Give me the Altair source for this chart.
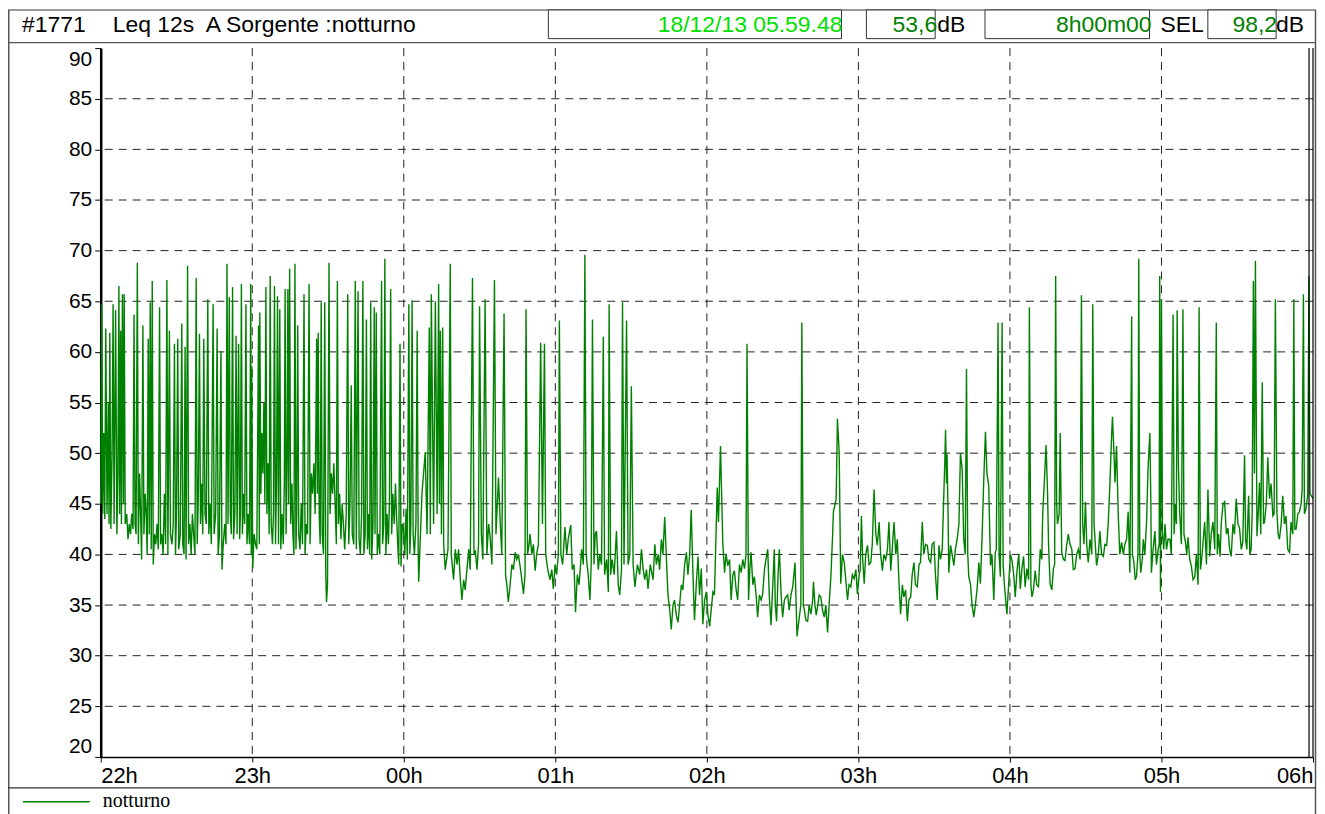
import altair as alt
import pandas as pd

# ---- data: (minutes after 22:00, Leq dB) ----
seg_22h_00h = [
    (0, 45), (0.4, 64.7), (0.8, 44), (1.2, 52), (1.6, 43.5), (2.0, 62.3), (2.5, 44), (3.0, 55), (3.3, 43),
    (3.6, 61.9), (4.0, 42.5), (4.5, 50), (4.9, 64.7), (5.3, 43), (5.9, 64.1), (6.4, 42), (6.8, 48), (7.2, 66.5),
    (7.5, 44), (7.9, 62.1), (8.2, 43), (8.6, 65.7), (9.0, 45), (9.3, 65.7), (9.7, 43), (10.3, 44), (10.8, 41.5),
    (11.3, 43), (11.8, 42), (12.3, 44), (12.8, 42.5), (13.2, 63.7), (13.6, 43), (14.0, 42), (14.5, 68.8), (14.9, 41),
    (15.4, 48), (15.8, 44), (16.2, 39.5), (16.7, 62.6), (17.1, 42), (17.6, 46), (18.0, 44), (18.4, 40), (18.8, 61.3),
    (19.2, 42), (19.6, 64.9), (20.0, 40.5), (20.4, 67.0), (20.8, 39), (21.3, 42), (21.8, 41), (22.3, 43), (22.8, 40.5),
    (23.3, 64.4), (23.7, 41), (24.2, 42), (24.7, 40), (25.2, 46), (25.7, 41), (26.2, 67.1), (26.6, 40), (27.2, 62.1),
    (27.6, 42), (28.2, 41), (28.7, 43), (29.2, 60.8), (29.6, 40), (30.0, 44), (30.5, 61.3), (30.9, 40.5), (31.5, 42),
    (32.1, 62.8), (32.5, 41), (33.0, 40), (33.4, 60.5), (33.8, 39.5), (34.4, 68.5), (34.8, 41), (35.3, 43), (35.8, 40),
    (36.3, 44), (36.8, 42), (37.3, 40), (37.8, 67.3), (38.2, 41), (38.6, 45), (39.1, 61.8), (39.5, 43), (40.0, 47),
    (40.4, 42), (40.8, 61.3), (41.3, 44), (41.8, 43), (42.4, 65.2), (42.8, 42), (43.3, 45), (43.8, 41), (44.5, 64.7),
    (44.9, 42), (45.5, 44), (46.1, 62.3), (46.5, 40), (47.0, 42), (47.6, 60.1), (48.0, 38.5), (48.5, 41), (49.1, 43),
    (49.6, 41), (50.0, 68.7), (50.4, 43), (50.9, 65.4), (51.3, 44), (51.7, 42), (52.2, 66.4), (52.6, 41.5), (53.1, 44),
    (53.6, 61.6), (54.0, 42), (54.6, 60.8), (55.0, 41.5), (55.3, 44), (55.7, 66.7), (56.1, 42), (56.6, 46), (57.0, 43),
    (57.5, 64.7), (57.9, 41), (58.4, 44), (58.9, 41), (59.4, 66.7), (59.6, 40), (59.8, 58.6), (60.2, 38.6), (60.7, 42),
    (61.3, 41), (61.8, 40.5), (62.5, 62.6), (62.8, 41), (63.0, 63.9), (63.4, 46), (63.8, 52), (64.2, 48), (64.6, 55),
    (65.0, 45), (65.4, 66.4), (65.8, 44), (66.3, 49), (66.7, 42), (67.1, 67.5), (67.5, 43), (68.0, 41), (68.4, 44),
    (68.8, 66.5), (69.2, 41), (69.6, 47), (70.0, 65.5), (70.4, 41), (70.9, 64.2), (71.3, 40.5), (71.8, 44), (72.3, 41),
    (72.7, 47), (73.0, 66.2), (73.4, 42), (73.8, 50), (74.1, 66.2), (74.4, 45), (74.8, 68.2), (75.2, 43), (75.7, 47),
    (76.1, 42), (76.5, 40), (76.9, 68.7), (77.3, 40.5), (77.6, 44), (78.0, 62.6), (78.4, 42), (78.9, 40.5), (79.4, 45),
    (79.9, 41), (80.5, 65.7), (80.9, 40), (81.4, 43), (81.9, 42), (82.5, 66.7), (82.9, 41), (83.4, 48), (83.9, 46),
    (84.4, 49), (84.9, 44), (85.5, 61.3), (85.8, 46), (86.1, 61.9), (86.5, 44), (86.9, 41), (87.3, 64.9), (87.7, 42),
    (88.2, 40), (88.7, 64.9), (89.1, 38), (89.4, 35.3), (89.8, 37), (90.4, 68.8), (90.8, 44), (91.3, 48), (91.8, 46),
    (92.3, 49), (92.8, 45), (93.3, 41), (93.7, 67.0), (94.1, 43), (94.6, 46), (95.1, 41.5), (95.6, 45), (96.1, 43),
    (96.6, 40.5), (97.2, 44), (97.8, 65.7), (98.2, 41), (98.7, 45), (99.2, 56.7), (99.6, 42), (100.2, 41), (100.8, 67.0),
    (101.2, 40.5), (101.9, 66.0), (102.3, 41.5), (102.8, 40), (103.3, 44), (103.8, 67.0), (104.2, 40), (104.7, 42),
    (105.2, 63.2), (105.6, 40.5), (106.1, 44), (106.5, 40), (106.9, 64.9), (107.3, 39.5), (107.8, 43), (108.3, 64.4),
    (108.6, 42), (109.1, 63.9), (109.5, 40), (110.0, 42), (110.5, 40), (111.2, 67.0), (111.6, 41), (112.1, 43),
    (112.5, 69.2), (112.9, 40), (113.4, 44), (113.9, 41), (114.3, 45), (114.8, 66.2), (115.2, 42), (115.7, 46),
    (116.2, 43), (116.7, 47), (117.1, 44), (117.6, 41), (118.0, 39), (118.5, 60.8), (118.9, 38.8), (119.4, 43),
    (119.9, 42.5), (120.4, 40), (120.9, 44.5), (121.4, 39.5), (122.0, 64.7), (122.4, 40), (122.8, 43), (123.3, 65.1),
    (123.7, 42), (124.2, 40), (124.8, 43), (125.3, 62.1), (125.7, 40.5),
]

seg_00h_02h = [
    (125.9, 37.3), (127.2, 46.0), (128.5, 50.1), (129.2, 42), (130.1, 62.4), (130.5, 42), (130.9, 65.7), (131.8, 43),
    (132.5, 65.0), (133.2, 44), (133.8, 66.7), (134.1, 45), (134.5, 62.1), (134.9, 42), (135.4, 62.4), (135.8, 41),
    (136.4, 38.5), (137.5, 40.5), (138.4, 68.7), (138.8, 40), (139.7, 37.5), (140.4, 40.5), (141.1, 39), (141.7, 40.5),
    (142.4, 37.5), (143.0, 35.5), (143.7, 37.5), (144.3, 36.5), (145.0, 38.5), (145.7, 40.5), (146.3, 38.5),
    (147.2, 67.3), (147.8, 40), (148.3, 40.4), (149.0, 38.5), (149.6, 41), (150.0, 64.5), (150.7, 42), (151.3, 39.5),
    (152.2, 65.2), (152.9, 40), (153.6, 43), (154.2, 41.7), (154.9, 39), (155.9, 67.1), (156.5, 42), (157.5, 47.6),
    (158.2, 43), (158.8, 40), (159.7, 63.8), (160.3, 38), (160.8, 37), (161.4, 35.3), (162.1, 37), (162.8, 39),
    (163.4, 38.5), (164.1, 40.2), (164.7, 39.5), (165.4, 40), (166.5, 38), (167.4, 36.1), (168.0, 38), (168.4, 64.2),
    (169.0, 40), (169.6, 41), (170.0, 42.0), (170.7, 40), (171.3, 41), (172.0, 38.4), (172.6, 40), (173.3, 41),
    (174.2, 60.9), (174.9, 43), (175.7, 60.8), (176.2, 40), (177.0, 38.5), (177.9, 37.5), (178.6, 38.5), (179.2, 36.6),
    (179.9, 39), (180.5, 38), (181.2, 40), (181.6, 63.1), (182.2, 40), (182.9, 39), (183.8, 42.7), (184.5, 40),
    (185.1, 41.5), (186.1, 42.9), (186.7, 38.5), (187.4, 39), (188.0, 34.3), (188.7, 38), (189.4, 37), (190.0, 39),
    (190.4, 40.5), (191.1, 39), (191.7, 69.6), (192.2, 40), (193.0, 38), (193.7, 35.5), (194.2, 39), (194.7, 63.2),
    (195.3, 39), (195.8, 42), (196.3, 42.3), (197.0, 38.5), (197.6, 40), (198.3, 39), (199.0, 61.5), (199.5, 38),
    (200.3, 39.5), (201.0, 36.3), (201.3, 64.7), (201.9, 38), (202.5, 39.5), (203.3, 38), (204.2, 42.3), (204.9, 37),
    (205.5, 36), (206.2, 38.5), (206.6, 64.9), (207.2, 39), (208.2, 63.1), (208.8, 39), (209.5, 40), (210.1, 56.6),
    (210.8, 39), (211.5, 36.8), (212.5, 39), (213.4, 38), (214.1, 40.5), (214.8, 38.5), (215.4, 37.5), (216.1, 38.5),
    (216.7, 36.6), (217.6, 39), (218.7, 37.5), (219.4, 41), (220.0, 39), (220.7, 40), (221.3, 38.5), (222.0, 41.5),
    (222.6, 40), (223.3, 43.7), (224.0, 39.5), (224.6, 36), (225.3, 34.5), (225.9, 32.6), (226.6, 35), (227.2, 35.5),
    (227.9, 34), (228.6, 33.3), (229.2, 35), (229.9, 37), (230.5, 36.5), (231.2, 39), (231.9, 40.2), (232.5, 38),
    (233.2, 40), (233.8, 44.4), (234.5, 38), (235.1, 33.5), (235.8, 37), (236.5, 39.8), (237.1, 36), (237.8, 38.6),
    (238.4, 33.1), (239.1, 35.5), (239.8, 36.3), (240.4, 34), (241.1, 32.9), (241.7, 34.5), (242.4, 36.3), (243.0, 36),
    (243.7, 42.7), (244.1, 46.6),
]

seg_02h_04h = [
    (244.6, 43.2), (245.4, 50.7), (246.3, 41.2), (247.0, 38.2), (247.6, 40), (248.3, 38.9), (249.0, 39.5),
    (249.6, 35.5), (250.3, 38), (250.9, 38.4), (251.6, 36.5), (252.2, 35.5), (252.9, 39), (253.6, 38.2), (254.2, 39.5),
    (254.9, 38.6), (255.5, 40), (255.9, 60.8), (256.5, 35.5), (257.0, 38.5), (257.5, 40.2), (258.2, 37), (258.8, 37.8),
    (259.5, 36), (260.1, 33.8), (260.8, 36), (261.5, 35.5), (262.1, 36.1), (262.8, 38.5), (263.4, 39.5), (264.1, 40.5),
    (264.7, 36), (265.4, 33.0), (266.1, 37), (266.7, 40.5), (267.1, 35), (267.6, 33.4), (268.2, 38), (268.7, 40.5),
    (269.4, 36), (270.0, 33.8), (270.7, 35.5), (271.3, 35.8), (272.0, 36), (272.6, 34.5), (273.3, 36), (274.0, 36.8),
    (274.9, 39.2), (275.7, 31.9), (276.2, 33), (276.6, 33.8), (277.2, 35), (277.6, 62.9), (278.2, 35), (278.6, 34.5),
    (279.2, 33.5), (279.9, 33.4), (280.5, 35), (281.2, 34.1), (281.9, 35.5), (282.2, 37.3), (282.8, 35), (283.3, 34),
    (283.8, 34.8), (284.5, 36), (285.1, 35.8), (285.8, 34.5), (286.5, 33.8), (287.1, 35), (287.8, 32.3), (288.4, 35),
    (289.1, 37.8), (289.8, 42), (290.1, 44.2), (290.8, 45), (291.2, 45.5), (291.7, 53.4), (292.4, 50.0), (293.0, 37.1),
    (293.7, 40), (294.4, 39.2), (295.0, 37.5), (295.7, 35.5), (296.3, 37), (297.0, 36.8), (297.6, 38), (298.3, 37.6),
    (299.0, 38.5), (299.6, 36.1), (300.3, 38), (300.7, 38.4), (301.2, 43.8), (301.7, 39.5), (302.3, 37.1), (302.9, 40),
    (303.6, 40.9), (304.2, 39), (304.9, 39.2), (305.5, 41), (306.2, 46.4), (306.9, 42), (307.5, 40.9), (308.2, 43.2),
    (308.8, 40), (309.5, 38.4), (310.1, 40), (310.8, 39.5), (311.5, 40.5), (312.1, 43.2), (312.8, 38.4), (313.4, 40.5),
    (314.1, 43.2), (314.8, 40), (315.4, 41.5), (316.1, 37), (316.7, 34.1), (317.4, 37), (318.0, 35.8), (318.7, 36.5),
    (319.4, 33.4), (320.0, 35.5), (320.7, 35.8), (321.3, 38), (322.0, 39.2), (322.6, 37), (323.3, 36.8), (324.0, 39),
    (324.6, 39.2), (325.3, 43.2), (325.9, 40), (326.6, 41), (327.3, 40.9), (327.9, 39.5), (328.6, 39.2), (329.2, 41),
    (329.9, 41.2), (330.5, 38), (331.2, 35.5), (331.9, 40.9), (332.5, 39.5), (333.2, 40.5), (333.8, 45.8), (334.2, 49),
    (334.5, 52.3), (334.9, 47), (335.1, 49.9), (335.5, 44), (335.8, 38.2), (336.5, 40.9), (337.1, 40), (337.8, 38.9),
    (338.4, 40.5), (339.1, 41.5), (339.8, 43), (340.4, 50.0), (341.1, 48.4), (341.7, 41.5), (342.3, 40), (342.8, 58.3),
    (343.3, 40), (343.7, 37.8), (344.4, 37), (345.0, 35), (345.7, 33.8), (346.3, 35), (347.0, 36.6), (347.7, 39.2),
    (348.3, 37.1), (349.0, 42), (349.6, 47.1), (350.3, 52.1), (350.9, 48), (351.6, 46.8), (352.3, 38.9), (352.9, 40),
    (353.6, 35.5), (354.2, 40.2), (354.6, 40.5), (355.3, 62.9), (355.7, 40), (356.2, 37.8), (356.9, 62.9), (357.3, 39),
    (357.8, 37), (358.8, 34.1), (359.5, 37.1), (360.2, 40), (360.8, 39.4), (361.5, 38), (362.1, 35.8), (362.8, 38.4),
]

seg_04h_06h = [
    (363.5, 40), (364.1, 36.6), (364.7, 38.5), (365.4, 39.8), (366.0, 36.8), (366.7, 38.6), (367.4, 37.5),
    (367.7, 64.4), (368.3, 37), (368.7, 35.8), (369.3, 36.5), (370.0, 38.4), (370.6, 37), (371.3, 36.8), (372.0, 40.5),
    (372.6, 39.5), (373.0, 44.2), (373.7, 47.6), (374.3, 50.8), (374.9, 46), (375.3, 40.9), (375.9, 37.1),
    (376.6, 36.5), (377.2, 38.6), (377.7, 39), (378.1, 67.5), (378.5, 45), (378.8, 43), (379.5, 44), (379.9, 52),
    (380.5, 40.2), (381.2, 39.5), (381.8, 39.4), (382.5, 41), (383.1, 42), (383.8, 41), (384.5, 40.5), (385.1, 38.5),
    (385.8, 38.6), (386.4, 40), (387.1, 40.5), (387.8, 39.5), (388.3, 65.6), (388.8, 43), (389.3, 41), (389.9, 45.2),
    (390.4, 41), (391.0, 39.2), (391.7, 41.5), (392.4, 40), (392.8, 64.7), (393.3, 43), (393.8, 41), (394.3, 38.9),
    (395.0, 40), (395.6, 42.3), (396.3, 40), (397.0, 39.8), (397.6, 41), (398.3, 40.9), (398.9, 43), (399.6, 47.1),
    (400.3, 52), (400.6, 53.6), (401.2, 50), (401.6, 47.1), (402.2, 50.7), (402.9, 43.8), (403.5, 40), (404.2, 41.2),
    (404.9, 40), (405.5, 41), (406.2, 41.5), (406.8, 44.2), (407.5, 38.2), (408.2, 63.5), (408.5, 40), (409.1, 39.2),
    (409.6, 37.5), (410.1, 37.8), (410.7, 40), (411.0, 69.2), (411.4, 40), (411.8, 38.2), (412.4, 39.5), (412.8, 41.5),
    (413.4, 40), (414.1, 43.2), (414.7, 48.6), (415.4, 52), (415.8, 45), (416.0, 38.2), (416.7, 40.5), (417.4, 42.3),
    (418.0, 39), (418.7, 40.5), (419.1, 41), (419.3, 67.5), (419.6, 36.3), (420.0, 65.2), (420.4, 42), (420.9, 40.5),
    (421.4, 43), (422.0, 40.5), (422.6, 41.5), (423.3, 41.5), (423.9, 40), (424.6, 63.7), (425.0, 42), (425.5, 45),
    (425.9, 43), (426.2, 64.1), (426.7, 48.9), (427.2, 44.2), (427.9, 41), (428.5, 64.2), (428.9, 42), (429.5, 41.2),
    (430.0, 40), (430.5, 41.7), (431.2, 39.5), (431.8, 38.9), (432.5, 37.5), (433.2, 37.8), (433.8, 40), (434.5, 37),
    (434.9, 64.4), (435.4, 38.5), (435.8, 39.2), (436.4, 41), (437.1, 43.2), (437.8, 39), (438.4, 46.4), (439.1, 39.8),
    (439.7, 42), (440.4, 43.2), (441.1, 40.5), (441.7, 62.9), (442.1, 40), (442.6, 42), (443.2, 39.8), (443.7, 43.2),
    (444.4, 45), (445.0, 45.2), (445.7, 42), (446.3, 42.6), (447.0, 40.5), (447.6, 39.8), (448.3, 43), (448.9, 42),
    (449.6, 45.5), (450.3, 43), (450.9, 42.6), (451.6, 40.5), (452.2, 41.2), (452.9, 49.8), (453.3, 41.5),
    (453.8, 40.5), (454.5, 45.8), (455.0, 40), (455.5, 40.5), (455.9, 44), (456.4, 67.0), (456.8, 48), (457.2, 69.0),
    (457.8, 41.8), (458.3, 44), (458.8, 47.1), (459.3, 42), (459.9, 57), (460.4, 43), (460.8, 43.2), (461.5, 45),
    (462.1, 49.6), (462.8, 45.5), (463.4, 47), (464.1, 43.8), (464.6, 44), (465.1, 65.2), (465.7, 44.2), (466.2, 42),
    (466.7, 41.5), (467.4, 43), (468.0, 45.8), (468.7, 43), (469.3, 43.8), (470.0, 40.5), (470.7, 40.2), (471.3, 43.2),
    (472.0, 42), (472.4, 65.2), (472.8, 42.5), (473.3, 42.5), (474.0, 44), (474.6, 44.2), (475.3, 45), (475.7, 46.4),
    (476.2, 65.7), (476.6, 44), (477.2, 44.5), (477.9, 45.8), (478.4, 67.5), (478.8, 46), (480.0, 45.5),
]

y_ticks = [20, 25, 30, 35, 40, 45, 50, 55, 60, 65, 70, 75, 80, 85, 90]
grid_db = [25, 30, 35, 40, 45, 50, 55, 60, 65, 70, 75, 80, 85]
hour_offsets = [0, 1, 2, 3, 4, 5, 6, 7, 8]          # 22h .. 06h
grid_hour_offsets = [1, 2, 3, 4, 5, 6, 7]           # 23h .. 05h
header_id = "#1771"
header_title = "Leq 12s\u00a0 A Sorgente :notturno"
header_date = "18/12/13 05.59.48"
header_leq = "53,6"
header_dur = "8h00m00"
header_sel = "98,2"
series_name = "notturno"

# ---- build tables ----
base = pd.Timestamp("2013-12-17 22:00:00")
pts = seg_22h_00h + seg_00h_02h + seg_02h_04h + seg_04h_06h
df = pd.DataFrame(pts, columns=["m", "db"])
df["t"] = base + pd.to_timedelta(df["m"], unit="m")
df = df[["t", "db"]]


def dt(ts):
    return alt.DateTime(year=ts.year, month=ts.month, date=ts.day, hours=ts.hour, minutes=ts.minute)


hour_vals = [dt(base + pd.Timedelta(hours=h)) for h in hour_offsets]
vgrid = pd.DataFrame({"t": [base + pd.Timedelta(hours=h) for h in grid_hour_offsets]})
hgrid = pd.DataFrame({"db": grid_db})

SANS = "Liberation Sans"
W, H = 1216, 711
HDR = 23

x_enc = alt.X(
    "t:T",
    scale=alt.Scale(domain=[hour_vals[0], hour_vals[-1]], nice=False),
    axis=alt.Axis(values=hour_vals, format="%Hh", title=None, grid=False, labelFlush=True,
                  labelFont=SANS, labelFontSize=22, labelColor="black", labelPadding=4,
                  tickColor="black", tickSize=5, tickWidth=1, domainColor="black", domainWidth=1.5,
                  labelOverlap=False),
)
y_enc = alt.Y(
    "db:Q",
    scale=alt.Scale(domain=[20, 90], nice=False, zero=False),
    axis=alt.Axis(values=y_ticks, title=None, grid=False, labelFlush=True, labelFont=SANS,
                  labelFontSize=21, labelColor="black", labelPadding=3, tickColor="black",
                  tickSize=6, tickWidth=1, domainColor="black", domainWidth=2.5, labelOverlap=False),
)

one = alt.Data(values=[{}])

hgrid_layer = alt.Chart(hgrid).mark_rule(color="#222", strokeDash=[8, 6], strokeWidth=1).encode(y=y_enc)
vgrid_layer = alt.Chart(vgrid).mark_rule(color="#222", strokeDash=[8, 6], strokeWidth=1).encode(x=x_enc)
line_layer = alt.Chart(df).mark_line(color="#008000", strokeWidth=1.4).encode(x=x_enc, y=y_enc)


def hline(x1, x2, y, color="#555", w=1.5):
    return alt.Chart(one).mark_rule(color=color, strokeWidth=w).encode(
        x=alt.value(x1), x2=alt.value(x2), y=alt.value(y))


def vline(x, y1, y2, color="#555", w=1.5):
    return alt.Chart(one).mark_rule(color=color, strokeWidth=w).encode(
        x=alt.value(x), y=alt.value(y1), y2=alt.value(y2))


def box(x1, x2, y1=-38.25, y2=-9.5):
    return alt.Chart(one).mark_rect(fill="white", stroke="#333", strokeWidth=1).encode(
        x=alt.value(x1), x2=alt.value(x2), y=alt.value(y1), y2=alt.value(y2))


def label(x, y, s, align="left", color="black", size=HDR, font=SANS):
    return alt.Chart(one).mark_text(align=align, baseline="alphabetic", font=font, fontSize=size,
                                    color=color).encode(x=alt.value(x), y=alt.value(y), text=alt.value(s))


deco = [
    hline(-93, 1219, -38.25, color="#777"),
    vline(-92.25, -38.25, 800),
    vline(1218.5, -38.25, 800),
    hline(-93, 1219, -5.5),
    hline(-93, 1219, 742, color="#333", w=1.2),
    vline(1212, 0, H, color="black", w=1.2),
    vline(W, 0, H, color="black", w=1.2),
    box(449, 743), box(768, 837), box(887, 1052), box(1110.5, 1179),
    label(-79, -16, header_id),
    label(12, -16, header_title),
    label(744, -16, header_date, align="right", color="#00e000"),
    label(839, -16, header_leq, align="right", color="#008000"),
    label(839, -16, "dB"),
    label(1054, -16, header_dur, align="right", color="#008000"),
    label(1063, -16, "SEL"),
    label(1180, -16, header_sel, align="right", color="#008000"),
    label(1179, -16, "dB"),
    hline(-78, -11, 756, color="#008000", w=1.5),
    label(2, 761, series_name, size=20, font="Liberation Serif"),
]

chart = alt.layer(hgrid_layer, vgrid_layer, line_layer, *deco).properties(
    width=W, height=H,
    autosize=alt.AutoSizeParams(type="none"),
    padding={"left": 93, "top": 39, "right": 4, "bottom": 56},
    background="white",
).configure_view(stroke=None)

chart.save("out.html", embed_options={"renderer": "svg", "actions": False})
